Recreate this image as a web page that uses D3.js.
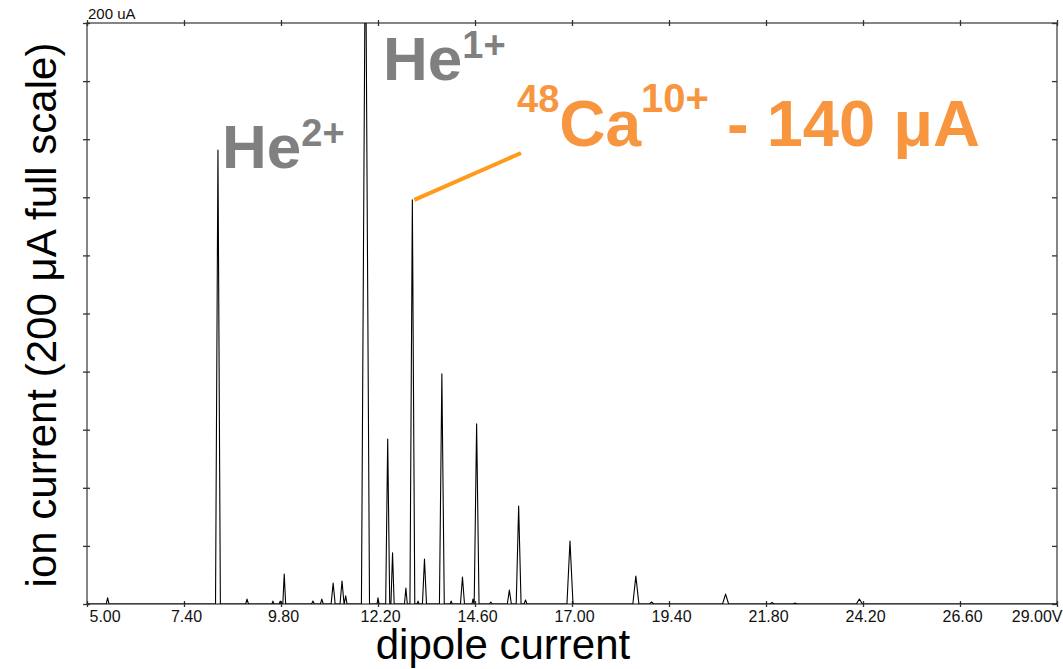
<!DOCTYPE html>
<html lang="en">
<head>
    <meta charset="UTF-8">
    <title>Ion current vs dipole current</title>
    <script src="https://d3js.org/d3.v7.min.js"></script>
    <style>
        body {
            margin: 0;
            background: white;
            font-family: "Liberation Sans", Arial, sans-serif;
        }
        .axis line {
            stroke: #333;
            stroke-width: 1.3;
        }
        .axis .domain {
            display: none;
        }
        .axis text {
            font-family: "Liberation Sans", Arial, sans-serif;
            font-size: 16px;
            fill: #111;
        }
    </style>
</head>
<body>
    <svg id="chart" width="1063" height="669"></svg>

    <script>
        const width = 1063;
        const height = 669;
        const margin = { top: 23, right: 6, bottom: 65, left: 87 };

        // peaks of the spectrum: position (A), height (uA), base width (A)
        const peakPos    = [5.51, 8.24, 8.96, 9.60, 9.78, 9.88, 10.59, 10.81, 11.09, 11.31, 11.40,
                            11.89, 12.20, 12.44, 12.56, 12.89, 13.05, 13.19, 13.35, 13.78, 14.01,
                            14.29, 14.55, 14.64, 14.99, 15.45, 15.68, 15.85, 16.95, 18.58, 18.97,
                            20.80, 21.95, 22.52, 24.11];
        const peakHeight = [2.1, 156.3, 1.7, 1.0, 1.0, 10.3, 1.0, 1.7, 7.2, 7.9, 2.8,
                            240, 2.1, 56.8, 17.6, 5.5, 139.1, 1.0, 15.5, 79.2, 1.0,
                            9.3, 1.7, 62.0, 0.7, 4.8, 33.7, 1.4, 21.7, 9.6, 0.7,
                            3.4, 0.5, 0.3, 1.7];
        const peakWidth  = [0.07, 0.12, 0.07, 0.05, 0.05, 0.07, 0.07, 0.07, 0.10, 0.10, 0.07,
                            0.20, 0.05, 0.10, 0.08, 0.07, 0.12, 0.05, 0.10, 0.12, 0.05,
                            0.10, 0.05, 0.12, 0.07, 0.10, 0.12, 0.07, 0.15, 0.15, 0.10,
                            0.15, 0.10, 0.10, 0.15];

        const xTicks = [5, 7.4, 9.8, 12.2, 14.6, 17, 19.4, 21.8, 24.2, 26.6, 29];
        const xTickLabels = ["5.00", "7.40", "9.80", "12.20", "14.60", "17.00", "19.40", "21.80", "24.20", "26.60", "29.00V"];
        const yTicks = [0, 20, 40, 60, 80, 100, 120, 140, 160, 180, 200];

        const svg = d3.select("#chart");
        const innerWidth = width - margin.left - margin.right;
        const innerHeight = height - margin.top - margin.bottom;

        const x = d3.scaleLinear().domain([5, 29]).range([margin.left, margin.left + innerWidth]);
        const y = d3.scaleLinear().domain([0, 200]).range([margin.top + innerHeight, margin.top]);

        svg.append("clipPath").attr("id", "plot-clip")
            .append("rect")
            .attr("x", margin.left).attr("y", margin.top)
            .attr("width", innerWidth).attr("height", innerHeight);

        // trace built from the peak table
        const trace = [[5, 0]];
        peakPos.forEach((p, i) => {
            trace.push([p - peakWidth[i] / 2, 0]);
            trace.push([p, peakHeight[i]]);
            trace.push([p + peakWidth[i] / 2, 0]);
        });
        trace.push([29, 0]);

        const line = d3.line().x(d => x(d[0])).y(d => y(d[1]));

        // frame
        svg.append("rect")
            .attr("x", x(5)).attr("y", y(200))
            .attr("width", x(29) - x(5)).attr("height", y(0) - y(200))
            .attr("fill", "none")
            .attr("stroke", "#444")
            .attr("stroke-width", 1.3);

        // axes
        const bottomAxis = svg.append("g").attr("class", "axis")
            .attr("transform", `translate(0,${y(0)})`)
            .call(d3.axisBottom(x).tickValues(xTicks).tickSize(3).tickPadding(4)
                .tickFormat((d, i) => xTickLabels[i]));
        bottomAxis.selectAll(".tick line").attr("y1", -3);
        bottomAxis.selectAll(".tick text")
            .attr("dx", 2)
            .attr("text-anchor", (d, i) => i === 0 ? "start" : (i === xTicks.length - 1 ? "end" : "middle"))
            .attr("x", (d, i) => i === xTicks.length - 1 ? 3 : 0);

        const topAxis = svg.append("g").attr("class", "axis")
            .attr("transform", `translate(0,${y(200)})`)
            .call(d3.axisTop(x).tickValues(xTicks).tickSize(3));
        topAxis.selectAll(".tick line").attr("y1", 3);
        topAxis.selectAll(".tick text").remove();

        const leftAxis = svg.append("g").attr("class", "axis")
            .attr("transform", `translate(${x(5)},0)`)
            .call(d3.axisLeft(y).tickValues(yTicks).tickSize(4));
        leftAxis.selectAll(".tick line").attr("x1", 3);
        leftAxis.selectAll(".tick text").remove();

        const rightAxis = svg.append("g").attr("class", "axis")
            .attr("transform", `translate(${x(29)},0)`)
            .call(d3.axisRight(y).tickValues(yTicks).tickSize(-5));
        rightAxis.selectAll(".tick text").remove();

        svg.append("path")
            .datum(trace)
            .attr("clip-path", "url(#plot-clip)")
            .attr("fill", "none")
            .attr("stroke", "#000")
            .attr("stroke-width", 1.1)
            .attr("stroke-linejoin", "round")
            .attr("d", line);

        svg.append("text")
            .attr("x", margin.left + 1)
            .attr("y", 19)
            .attr("font-size", "15px")
            .attr("fill", "#111")
            .text("200 uA");

        // axis titles
        svg.append("text")
            .attr("x", 503)
            .attr("y", 659)
            .attr("text-anchor", "middle")
            .attr("font-size", "42px")
            .attr("fill", "#000")
            .text("dipole current");

        svg.append("text")
            .attr("transform", "translate(56,315) rotate(-90)")
            .attr("text-anchor", "middle")
            .attr("font-size", "42px")
            .attr("fill", "#000")
            .text("ion current (200 μA full scale)");

        // peak annotations
        function label(px, py, base, sup, color) {
            const t = svg.append("text")
                .attr("x", px).attr("y", py)
                .attr("font-weight", "bold")
                .attr("fill", color);
            t.append("tspan").attr("font-size", "62px").text(base);
            t.append("tspan").attr("font-size", "38px").attr("dy", -22).text(sup);
        }
        label(222, 168, "He", "2+", "#808080");
        label(383, 80, "He", "1+", "#808080");

        svg.append("line")
            .attr("x1", x(13.05) + 2).attr("y1", y(139.1))
            .attr("x2", 521).attr("y2", 153)
            .attr("stroke", "#ff9a1a")
            .attr("stroke-width", 4);

        const ca = svg.append("text")
            .attr("x", 517).attr("y", 146)
            .attr("font-weight", "bold")
            .attr("fill", "#f7963f");
        ca.append("tspan").attr("font-size", "38px").attr("dy", -34).text("48");
        ca.append("tspan").attr("font-size", "64px").attr("dy", 34).text("Ca");
        ca.append("tspan").attr("font-size", "40px").attr("dy", -34).text("10+");
        ca.append("tspan").attr("font-size", "65px").attr("dy", 34).text(" - 140 μA");
    </script>
</body>
</html>
